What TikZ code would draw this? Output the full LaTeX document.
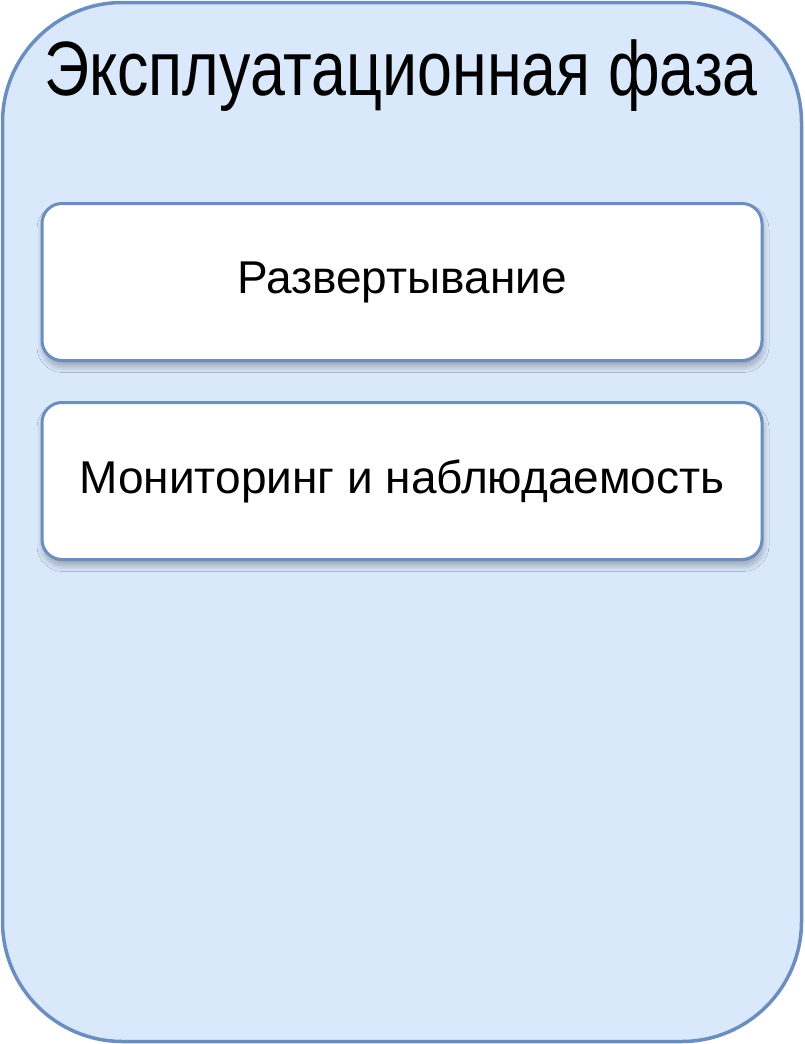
\documentclass[tikz,border=0pt]{standalone}
\usepackage{fontspec}
\setmainfont{Liberation Sans}
\newfontfamily\titlefont[FakeStretch=0.815]{Liberation Sans}
\usetikzlibrary{shadows.blur}
\definecolor{outerfill}{HTML}{DAE8FC}
\definecolor{outerline}{HTML}{6C8EBF}
\tikzset{
  phase/.style={draw=outerline, fill=outerfill, line width=3.5pt, rounded corners=120pt},
  stepbox/.style={draw=outerline, fill=white, line width=3pt, rounded corners=20pt,
    minimum width=720pt, minimum height=157pt, inner sep=0pt,
    font=\fontsize{46}{50}\selectfont,
    blur shadow={shadow xshift=1pt, shadow yshift=-6pt, shadow blur radius=6pt, shadow blur steps=12, shadow opacity=30}},
  titletext/.style={font=\titlefont\fontsize{77}{80}\selectfont, inner sep=0pt}
}
\begin{document}
\begin{tikzpicture}[x=1pt,y=-1pt]
\useasboundingbox (0,0) rectangle (804,1044);
\draw[phase] (2.5,2.5) rectangle (801.5,1041.5);
\node[titletext, anchor=base] (title) at (401,95) {Эксплуатационная фаза};
\node[stepbox] (deploy) at (402,282) {Развертывание};
\node[stepbox] (monitor) at (402,481) {Мониторинг и наблюдаемость};
\end{tikzpicture}
\end{document}
